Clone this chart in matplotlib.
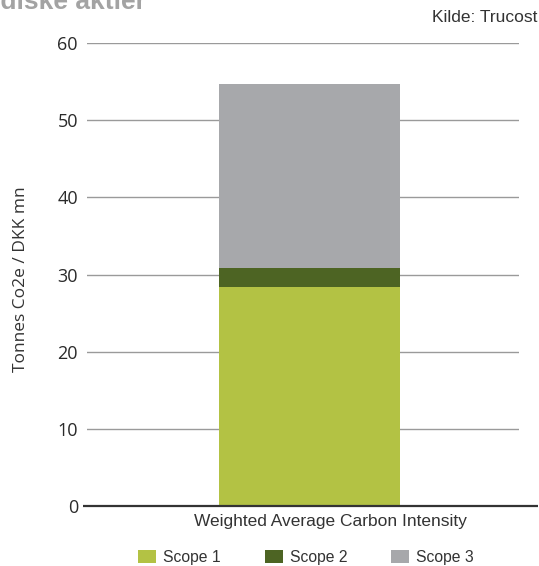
import matplotlib
matplotlib.use("Agg")
import matplotlib.pyplot as plt
from matplotlib.patches import Patch

# Data
categories = ["Weighted Average Carbon Intensity"]
scope1 = [28.4]
scope2 = [2.4]
scope3 = [23.9]
series_names = ["Scope 1", "Scope 2", "Scope 3"]
colors = ["#b3c244", "#4d6423", "#a7a8ab"]
yticks = [0, 10, 20, 30, 40, 50, 60]

plt.rcParams["font.family"] = ["Liberation Sans", "DejaVu Sans"]
W, H = 539, 566

fig = plt.figure(figsize=(W / 100, H / 100), dpi=100)
ax = fig.add_axes([87 / W, 1 - 506 / H, (519 - 87) / W, (506 - 43) / H])

x = [0]
bottom2 = [a for a in scope1]
bottom3 = [a + b for a, b in zip(scope1, scope2)]
ax.bar(x, scope1, width=0.419, color=colors[0], zorder=3)
ax.bar(x, scope2, width=0.419, bottom=bottom2, color=colors[1], zorder=3)
ax.bar(x, scope3, width=0.419, bottom=bottom3, color=colors[2], zorder=3)

ax.set_xlim(-0.515, 0.485)
ax.set_ylim(0, 60)
ax.set_yticks(yticks)
ax.tick_params(axis="y", length=0, pad=6.5, labelsize=13, labelcolor="#2a2a2a")
for lbl in ax.get_yticklabels():
    lbl.set_family(["Open Sans", "DejaVu Sans"])
ax.set_xticks([])
ax.grid(axis="y", color="#9a9a9a", linewidth=1.0, zorder=0)
for s in ["top", "right", "left", "bottom"]:
    ax.spines[s].set_visible(False)

# Baseline across the plot
ax.plot([-0.525, 0.53], [0, 0], color="#333333", linewidth=1.6, zorder=4,
        clip_on=False, solid_capstyle="butt")

ax.set_xlabel(categories[0], fontsize=12.5, color="#333333")
ax.xaxis.set_label_coords((330 - 87) / 432, -0.018, transform=ax.transAxes)
ax.xaxis.label.set_verticalalignment("top")

ax.set_ylabel("Tonnes Co2e / DKK mn", fontsize=12.5, color="#333333",
              family=["Open Sans", "DejaVu Sans"])
ax.yaxis.set_label_coords(21 / W, 1 - 279 / H, transform=fig.transFigure)
ax.yaxis.label.set_verticalalignment("center")

# Title (runs off the top-left edge) and source
title_kw = dict(fontsize=19, fontweight="bold", color="#a3a3a3")
renderer = fig.canvas.get_renderer()
probe = fig.text(0, 0, "Nor", **title_kw)
lead = probe.get_window_extent(renderer).width
probe.remove()
fig.text(-lead / W, 1 - 9 / H, "Nordiske aktier", ha="left", va="baseline",
         **title_kw)
fig.text(537 / W, 1 - 17 / H, "Kilde: Trucost", fontsize=12.5, color="#333333",
         ha="right", va="center")

handles = [Patch(facecolor=c, edgecolor="none") for c in colors]
fig.legend(handles, series_names, loc="center left", ncol=3,
           bbox_to_anchor=(138 / W, 1 - 557.5 / H), frameon=False,
           fontsize=11.3, handlelength=1.15, handleheight=0.95,
           handletextpad=0.45, columnspacing=2.8, borderpad=0,
           borderaxespad=0, labelcolor="#333333")

fig.savefig("out.png", dpi=100)
